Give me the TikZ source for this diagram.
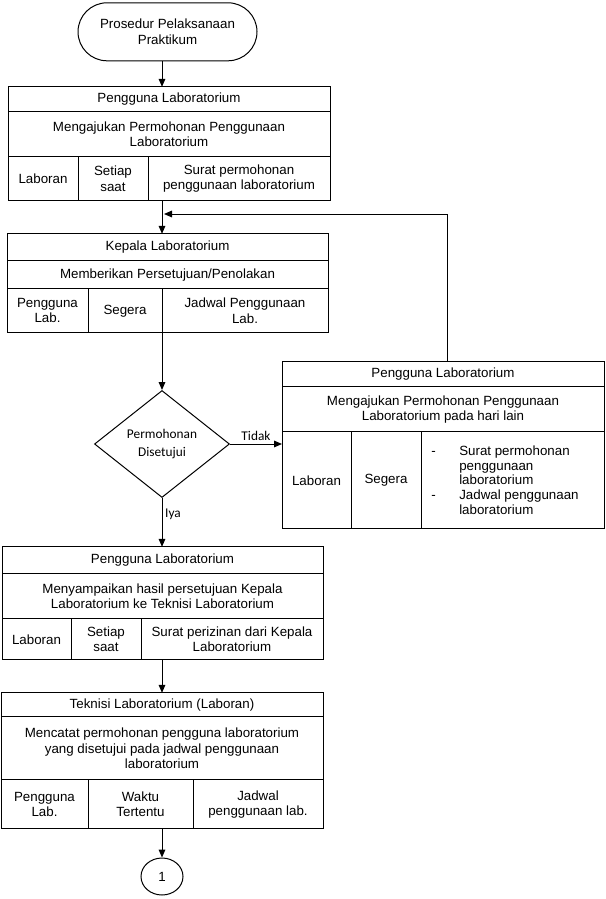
\documentclass[tikz,border=0pt]{standalone}
\usepackage{fontspec}
\setmainfont{Liberation Sans}
\newfontfamily\calibri{Carlito}
\usetikzlibrary{shapes.geometric,arrows.meta}
\tikzset{
  cell/.style={draw, line width=0.75pt, inner sep=0pt, outer sep=0pt, align=center, font=\fontsize{10}{11.5}\selectfont},
  arr/.style={line width=0.75pt, -{Triangle[length=6pt,width=5pt]}},
  lbl/.style={font=\calibri\fontsize{10}{12}\selectfont, inner sep=2pt},
  listtext/.style={inner sep=0pt, align=left, font=\fontsize{10}{11}\selectfont}
}
% \mkcell[extra]{name}{x1}{y1}{x2}{y2}{text}
\newcommand\mkcell[7][]{%
  \node[cell, #1, minimum width={(#5-#3)*0.75pt}, minimum height={(#6-#4)*0.75pt}]
    (#2) at ({(#3+#5)/2},{(#4+#6)/2+0.8}) {#7};}
\begin{document}
\begin{tikzpicture}[x=0.75pt,y=-0.75pt]
\useasboundingbox (0,0) rectangle (606,899);
\coordinate (sp) at (162,0);
\coordinate (fbx) at (447,0);
\coordinate (fbend) at (164,214);

% terminal
\mkcell[rounded corners=21.75pt]{term}{78}{2}{257}{60}{Prosedur Pelaksanaan\\Praktikum}

% box 1
\mkcell{b1h}{8}{86}{330}{111}{Pengguna Laboratorium}
\mkcell{b1a}{8}{111}{330}{156}{Mengajukan Permohonan Penggunaan\\Laboratorium}
\mkcell{b1c1}{8}{156}{78}{200}{Laboran}
\mkcell{b1c2}{78}{156}{148}{200}{Setiap\\saat}
\mkcell{b1c3}{148}{156}{330}{200}{Surat permohonan\\penggunaan laboratorium}

% box 2
\mkcell{b2h}{7}{233}{328}{260}{Kepala Laboratorium}
\mkcell{b2a}{7}{260}{328}{288}{Memberikan Persetujuan/Penolakan}
\mkcell{b2c1}{7}{288}{88}{332}{Pengguna\\Lab.}
\mkcell{b2c2}{88}{288}{162}{332}{Segera}
\mkcell{b2c3}{162}{288}{328}{332}{Jadwal Penggunaan\\Lab.}

% decision
\node[draw, line width=0.75pt, diamond, inner sep=0pt, minimum width=101.25pt, minimum height=80.25pt,
      align=center, font=\calibri\fontsize{10}{13.3}\selectfont] (dia) at (162,444) {Permohonan\\Disetujui};

% right box
\mkcell{rbh}{282}{361}{604}{386}{Pengguna Laboratorium}
\mkcell{rba}{282}{386}{604}{431}{Mengajukan Permohonan Penggunaan\\Laboratorium pada hari lain}
\mkcell{rbc1}{282}{431}{351}{528}{Laboran}
\mkcell{rbc2}{351}{431}{421}{528}{Segera}
\mkcell{rbc3}{421}{431}{604}{528}{}
\node[listtext, anchor=west] (rblist) at (431,480)
  {\makebox[21pt][l]{-}Surat permohonan\\\hspace*{21pt}penggunaan\\\hspace*{21pt}laboratorium\\\makebox[21pt][l]{-}Jadwal penggunaan\\\hspace*{21pt}laboratorium};

% box 3
\mkcell{b3h}{2}{546}{323}{573}{Pengguna Laboratorium}
\mkcell{b3a}{2}{573}{323}{618}{Menyampaikan hasil persetujuan Kepala\\Laboratorium ke Teknisi Laboratorium}
\mkcell{b3c1}{2}{618}{71}{659}{Laboran}
\mkcell{b3c2}{71}{618}{141}{659}{Setiap\\saat}
\mkcell{b3c3}{141}{618}{323}{659}{Surat perizinan dari Kepala\\Laboratorium}

% box 4
\mkcell{b4h}{1}{692}{323}{716}{Teknisi Laboratorium (Laboran)}
\mkcell{b4a}{1}{716}{323}{779}{Mencatat permohonan pengguna laboratorium\\yang disetujui pada jadwal penggunaan\\laboratorium}
\mkcell{b4c1}{1}{779}{88}{828}{Pengguna\\Lab.}
\mkcell{b4c2}{88}{779}{193}{828}{Waktu\\Tertentu}
\mkcell{b4c3}{193}{779}{323}{828}{Jadwal\\penggunaan lab.}

% connector
\node[draw, line width=0.75pt, ellipse, inner sep=0pt, minimum width=31.5pt, minimum height=27.75pt,
      font=\fontsize{10}{12}\selectfont] (conn) at (162,876.5) {1};

% arrows
\draw[arr] (term.south -| sp) -- (b1h.north -| sp);
\draw[arr] (b1c3.south -| sp) -- (b2h.north -| sp);
\draw[arr] (b2c3.south -| sp) -- (dia.north);
\draw[arr] (dia.east) -- node[lbl, above] {Tidak} (dia.east -| rbc1.west);
\draw[arr] (dia.south) -- node[lbl, right, pos=0.33] {Iya} (b3h.north -| sp);
\draw[arr] (b3c3.south -| sp) -- (b4h.north -| sp);
\draw[arr] (b4c3.south -| sp) -- (conn.north);
\draw[arr] (rbh.north -| fbx) |- (fbend);
\end{tikzpicture}
\end{document}
